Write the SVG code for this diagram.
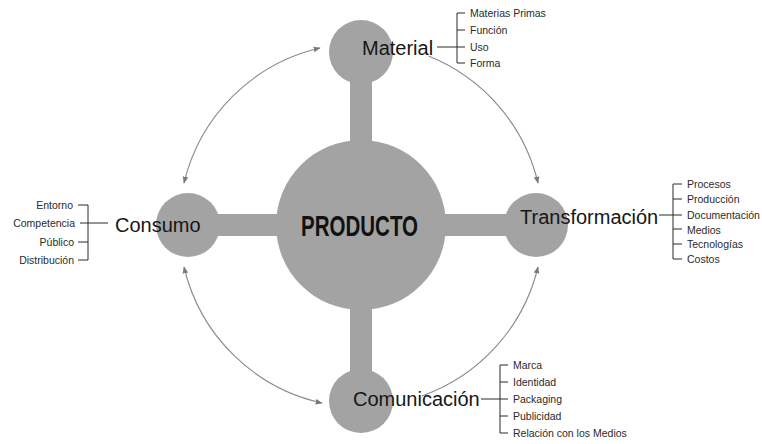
<svg xmlns="http://www.w3.org/2000/svg" width="762" height="444" viewBox="0 0 762 444">
  <style>
    .disc { fill: #a3a3a3; }
    .bar { fill: #a3a3a3; }
    .arc { fill: none; stroke: #8a8a8a; stroke-width: 1.1; }
    .lead { fill: none; stroke: #2a2a2a; stroke-width: 1; }
    .title { font-family: "Liberation Sans", Arial, sans-serif; font-size: 20px; fill: #161616; }
    .item { font-family: "Liberation Sans", Arial, sans-serif; font-size: 10.5px; fill: #2a2a2a; }
    .core { font-family: "Liberation Sans", Arial, sans-serif; font-size: 30px; font-weight: bold; fill: #111; }
  </style>
  <defs>
    <marker id="tip" viewBox="0 0 10 10" refX="9" refY="5" markerWidth="7" markerHeight="7" markerUnits="userSpaceOnUse" orient="auto-start-reverse">
      <path d="M0 1 L10 5 L0 9 Z" fill="#7a7a7a"/>
    </marker>
  </defs>
  <rect width="762" height="444" fill="#ffffff"/>

  <!-- connectors: cross bars and the circular arrows -->
  <g id="connectors">
    <rect class="bar" x="350" y="52" width="22" height="349"/>
    <rect class="bar" x="188" y="214" width="348" height="22"/>
    <path class="arc" d="M320 48 A182 182 0 0 0 184 183" marker-start="url(#tip)" marker-end="url(#tip)"/>
    <path class="arc" d="M428.5 56 A182 182 0 0 1 538 183" marker-end="url(#tip)"/>
    <path class="arc" d="M422 396 A182 182 0 0 0 538 267" marker-end="url(#tip)"/>
    <path class="arc" d="M184 267 A182 182 0 0 0 322 403" marker-start="url(#tip)" marker-end="url(#tip)"/>
  </g>

  <g id="producto">
    <circle class="disc" cx="361" cy="225" r="85"/>
    <text class="core" x="359.5" y="236" text-anchor="middle" textLength="117" lengthAdjust="spacingAndGlyphs">PRODUCTO</text>
  </g>

  <g id="material">
    <circle class="disc" cx="361" cy="52" r="32"/>
    <text class="title" x="362" y="55">Material</text>
    <path class="lead" d="M465 13 H457 V63 H465 M457 30 H465 M437 47 H465"/>
    <text class="item" x="470" y="17">Materias Primas</text>
    <text class="item" x="470" y="34">Función</text>
    <text class="item" x="470" y="51">Uso</text>
    <text class="item" x="470" y="67">Forma</text>
  </g>

  <g id="consumo">
    <circle class="disc" cx="188" cy="225" r="32"/>
    <text class="title" x="115" y="232">Consumo</text>
    <path class="lead" d="M78 205 H88 V260 H78 M78 242 H88 M80 223 H108"/>
    <text class="item" x="73" y="209" text-anchor="end">Entorno</text>
    <text class="item" x="75" y="227" text-anchor="end">Competencia</text>
    <text class="item" x="74" y="246" text-anchor="end">Público</text>
    <text class="item" x="74" y="264" text-anchor="end">Distribución</text>
  </g>

  <g id="transformacion">
    <circle class="disc" cx="536" cy="225" r="32"/>
    <text class="title" x="520" y="224">Transformación</text>
    <path class="lead" d="M682 184 H673 V259 H682 M673 199 H682 M659 215 H682 M673 229 H682 M673 244 H682"/>
    <text class="item" x="687" y="188">Procesos</text>
    <text class="item" x="687" y="203">Producción</text>
    <text class="item" x="687" y="219">Documentación</text>
    <text class="item" x="687" y="234">Medios</text>
    <text class="item" x="687" y="248">Tecnologías</text>
    <text class="item" x="687" y="263">Costos</text>
  </g>

  <g id="comunicacion">
    <circle class="disc" cx="361" cy="401" r="32"/>
    <text class="title" x="353" y="406">Comunicación</text>
    <path class="lead" d="M508 365 H500 V433 H508 M500 382 H508 M481 399 H508 M500 416 H508"/>
    <text class="item" x="513" y="369">Marca</text>
    <text class="item" x="513" y="386">Identidad</text>
    <text class="item" x="513" y="403">Packaging</text>
    <text class="item" x="513" y="420">Publicidad</text>
    <text class="item" x="513" y="437">Relación con los Medios</text>
  </g>
</svg>
